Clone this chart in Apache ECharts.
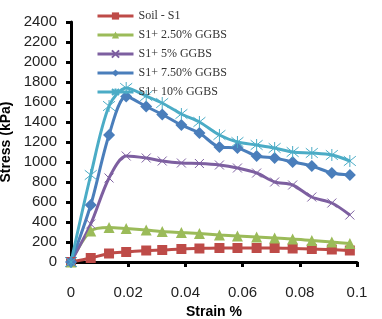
<!DOCTYPE html>
<html>
<head>
<meta charset="utf-8">
<script src="https://cdn.jsdelivr.net/npm/echarts@6/dist/echarts.min.js"></script>
<style>
    html, body { margin: 0; padding: 0; background: #fff; }
    #chart { width: 382px; height: 319px; }
</style>
</head>
<body>
<div id="chart"></div>
<script>
    // strain values (shared by all series)
    var strain = [0, 0.0069, 0.0133, 0.0193, 0.0263, 0.0319, 0.0386, 0.0449,
        0.0519, 0.0582, 0.0649, 0.0712, 0.0775, 0.0842, 0.0912, 0.0975];
    var soilS1 = [0, 40, 85, 100, 115, 120, 130, 135, 140, 140, 140, 140, 135, 130, 125, 115];
    var ggbs250 = [0, 310, 345, 335, 320, 305, 295, 285, 270, 260, 250, 240, 230, 215, 200, 185];
    var ggbs5 = [0, 380, 840, 1060, 1040, 1010, 990, 985, 970, 940, 890, 800, 770, 650, 590, 470];
    var ggbs750 = [0, 570, 1270, 1655, 1555, 1475, 1370, 1290, 1150, 1140, 1060, 1040, 1000, 960, 890, 870];
    var ggbs10 = [0, 870, 1560, 1740, 1660, 1590, 1480, 1400, 1270, 1200, 1170, 1140, 1100, 1090, 1070, 1010];
    var seriesNames = ['Soil - S1', 'S1+ 2.50% GGBS', 'S1+ 5% GGBS', 'S1+ 7.50% GGBS', 'S1+ 10% GGBS'];

    function pairs(ys) {
        return ys.map(function (y, i) { return [strain[i], y]; });
    }

    var crossPath = 'path://M0,0L10,10M0,10L10,0';
    var starPath = 'path://M5,0L5,10M1,1L9,9M1,9L9,1';

    function makeSeries(name, ys, color, symbol, size, hollow) {
        return {
            name: name,
            type: 'line',
            smooth: 0.3,
            data: pairs(ys),
            symbol: symbol,
            symbolSize: size,
            lineStyle: { color: color, width: 3 },
            itemStyle: hollow
                ? { color: 'rgba(0,0,0,0)', borderColor: color, borderWidth: 1 }
                : { color: color, borderWidth: 0 },
            emphasis: { disabled: true }
        };
    }

    var chart = echarts.init(document.getElementById('chart'));
    chart.setOption({
        animation: false,
        textStyle: { fontFamily: 'Liberation Sans' },
        grid: { left: 71, right: 25, top: 22, bottom: 57, outerBoundsMode: 'none', containLabel: false },
        legend: {
            left: 96,
            top: 10,
            orient: 'vertical',
            padding: 0,
            itemWidth: 36,
            itemHeight: 9,
            itemGap: 7,
            lineStyle: { width: 3 },
            textStyle: { fontFamily: 'Liberation Serif', fontSize: 12, color: '#333' },
            data: seriesNames
        },
        xAxis: {
            type: 'value',
            min: 0,
            max: 0.1,
            interval: 0.02,
            name: 'Strain %',
            nameLocation: 'middle',
            nameGap: 42,
            nameTextStyle: { fontSize: 14, fontWeight: 'bold', color: '#000' },
            axisLine: { lineStyle: { color: '#000', width: 3 } },
            axisTick: { show: true, length: 5, lineStyle: { color: '#000', width: 3 } },
            axisLabel: { fontSize: 15, color: '#222', margin: 23 },
            splitLine: { show: false }
        },
        yAxis: {
            type: 'value',
            min: 0,
            max: 2400,
            interval: 200,
            name: 'Stress (kPa)',
            nameLocation: 'middle',
            nameGap: 50,
            nameTextStyle: { fontSize: 14, fontWeight: 'bold', color: '#000' },
            axisLine: { show: true, lineStyle: { color: '#000', width: 3 } },
            axisTick: { show: true, length: 5, lineStyle: { color: '#000', width: 3 } },
            axisLabel: { fontSize: 15, color: '#222', margin: 14, formatter: function (v) { return String(v); } },
            splitLine: { show: false }
        },
        series: [
            makeSeries(seriesNames[0], soilS1, '#BE4B48', 'rect', 10, false),
            makeSeries(seriesNames[1], ggbs250, '#9BBB59', 'triangle', 11, false),
            makeSeries(seriesNames[2], ggbs5, '#7D5FA0', crossPath, 9, true),
            makeSeries(seriesNames[3], ggbs750, '#4A7EBB', 'diamond', 12, false),
            makeSeries(seriesNames[4], ggbs10, '#4BACC6', starPath, 12, true)
        ]
    });
</script>
</body>
</html>
